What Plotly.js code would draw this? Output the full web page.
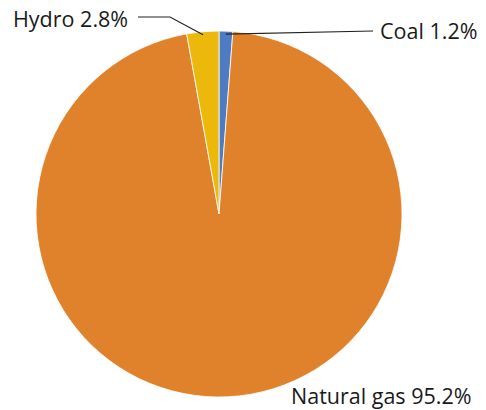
<!DOCTYPE html>
<html>
<head>
<meta charset="utf-8">
<script src="https://cdn.plot.ly/plotly-3.0.1.min.js"></script>
<style>html,body{margin:0;padding:0;background:#fff;}#chart{width:486px;height:410px;}</style>
</head>
<body>
<div id="chart"></div>
<script>
const labels = ["Coal", "Natural gas", "Hydro"];
const values = [1.2, 95.2, 2.8];
const colors = ["#4d7cc2", "#e0822b", "#ebb80b"];

const W = 486, H = 410;
const cx = 219, cy = 214, R = 183;
const px = x => x / W;
const py = y => 1 - y / H;

// point on pie edge at fraction f of circumference (clockwise from 12 o'clock)
const total = values.reduce((a, b) => a + b, 0);
function edge(f, r) {
  const a = 2 * Math.PI * f;
  return [cx + r * Math.sin(a), cy - r * Math.cos(a)];
}
const coalMid = edge((values[0] / 2) / total, R - 3);
const hydroMid = edge(1 - (values[2] / 2) / total, R - 3);

const font = {family: "Open Sans, Noto Sans, sans-serif", size: 21.5, color: "#1a1a1a"};

const shapes = [
  {type: "path", xref: "paper", yref: "paper",
   path: `M ${px(coalMid[0])} ${py(coalMid[1])} L ${px(373)} ${py(31)}`,
   line: {color: "#222", width: 1.2}},
  {type: "path", xref: "paper", yref: "paper",
   path: `M ${px(138)} ${py(17)} L ${px(170)} ${py(17)} L ${px(hydroMid[0])} ${py(hydroMid[1])}`,
   line: {color: "#222", width: 1.2}}
];

const annotations = [
  {text: labels[0] + " " + values[0].toFixed(1) + "%", x: px(378), y: py(31), xref: "paper", yref: "paper",
   xanchor: "left", yanchor: "middle", showarrow: false, font: font},
  {text: labels[2] + " " + values[2].toFixed(1) + "%", x: px(130), y: py(18), xref: "paper", yref: "paper",
   xanchor: "right", yanchor: "middle", showarrow: false, font: font},
  {text: labels[1] + " " + values[1].toFixed(1) + "%", x: px(289), y: py(395), xref: "paper", yref: "paper",
   xanchor: "left", yanchor: "middle", showarrow: false, font: font}
];

const data = [{
  type: "pie",
  labels: labels,
  values: values,
  sort: false,
  direction: "clockwise",
  rotation: 0,
  textinfo: "none",
  hoverinfo: "label+percent",
  marker: {colors: colors, line: {color: "#ffffff", width: 0.8}},
  domain: {x: [px(cx - R), px(cx + R)], y: [py(cy + R), py(cy - R)]},
  showlegend: false
}];

const layout = {
  width: W, height: H,
  margin: {l: 0, r: 0, t: 0, b: 0},
  paper_bgcolor: "#ffffff",
  showlegend: false,
  shapes: shapes,
  annotations: annotations
};

Plotly.newPlot("chart", data, layout, {displayModeBar: false, staticPlot: true});
</script>
</body>
</html>
